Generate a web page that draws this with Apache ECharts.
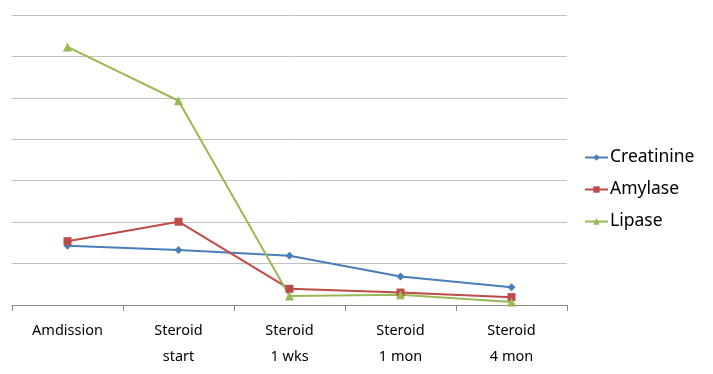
<!DOCTYPE html>
<html>
<head>
<meta charset="utf-8">
<script src="https://cdn.jsdelivr.net/npm/echarts@6/dist/echarts.min.js"></script>
<style>html,body{margin:0;padding:0;background:#fff}#c{width:713px;height:374px}</style>
</head>
<body>
<div id="c"></div>
<script>
const categories = ['Amdission', 'Steroid\nstart', 'Steroid\n1 wks', 'Steroid\n1 mon', 'Steroid\n4 mon'];
const creatinine = [1.43, 1.33, 1.19, 0.69, 0.43];
const amylase = [1.54, 2.01, 0.39, 0.30, 0.19];
const lipase = [6.23, 4.93, 0.22, 0.25, 0.07];

const chart = echarts.init(document.getElementById('c'));
const font = '"Noto Sans", "DejaVu Sans", sans-serif';
chart.setOption({
  animation: false,
  grid: { left: 12, right: 146, top: 15, bottom: 69 },
  legend: {
    orient: 'vertical', left: 579, top: 142,
    itemWidth: 23, itemHeight: 8, itemGap: 11,
    textStyle: { fontSize: 17.5, fontFamily: font, color: '#000', lineHeight: 21, padding: [0,0,0,-3] },
    data: ['Creatinine', 'Amylase', 'Lipase']
  },
  xAxis: {
    type: 'category', data: categories, boundaryGap: true,
    axisLine: { lineStyle: { color: '#868686', width: 1 } },
    axisTick: { show: true, length: 6, lineStyle: { color: '#868686' } },
    axisLabel: { fontSize: 14.5, fontFamily: font, color: '#000', lineHeight: 26, margin: 13 }
  },
  yAxis: {
    type: 'value', min: 0, max: 7, interval: 1,
    axisLine: { show: false }, axisTick: { show: false }, axisLabel: { show: false },
    splitLine: { lineStyle: { color: '#C0C0C0', width: 1 } }
  },
  series: [
    { name: 'Creatinine', type: 'line', data: creatinine, symbol: 'diamond', symbolSize: 8,
      itemStyle: { color: '#4A7EBB' }, lineStyle: { width: 2 } },
    { name: 'Amylase', type: 'line', data: amylase, symbol: 'rect', symbolSize: 8,
      itemStyle: { color: '#BE4B48' }, lineStyle: { width: 2 } },
    { name: 'Lipase', type: 'line', data: lipase, symbol: 'triangle', symbolSize: 9,
      itemStyle: { color: '#98B954' }, lineStyle: { width: 2 } }
  ]
});
</script>
</body>
</html>
